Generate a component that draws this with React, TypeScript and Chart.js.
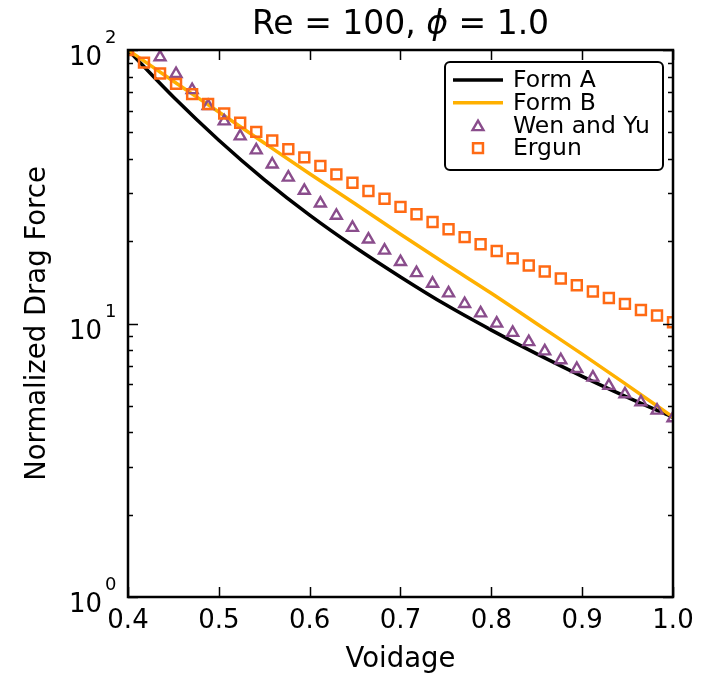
import React, { useEffect, useRef } from 'react';
import { Chart, registerables } from 'chart.js';

Chart.register(...registerables);

const FONT = "'DejaVu Sans', 'Liberation Sans', sans-serif";

// ---- data ----
const markerX = [0.4, 0.4176, 0.4353, 0.4529, 0.4706, 0.4882, 0.5059, 0.5235, 0.5412, 0.5588, 0.5765, 0.5941, 0.6118, 0.6294, 0.6471, 0.6647, 0.6824, 0.7, 0.7176, 0.7353, 0.7529, 0.7706, 0.7882, 0.8059, 0.8235, 0.8412, 0.8588, 0.8765, 0.8941, 0.9118, 0.9294, 0.9471, 0.9647, 0.9824, 1.0];
const wenYu = [126, 108.7, 94.2, 81.8, 71.4, 62.4, 54.9, 48.4, 43.0, 38.2, 34.2, 30.6, 27.5, 24.8, 22.4, 20.3, 18.5, 16.8, 15.3, 14.0, 12.9, 11.8, 10.9, 10.0, 9.25, 8.56, 7.92, 7.35, 6.83, 6.35, 5.92, 5.52, 5.16, 4.81, 4.51];
const ergun = [100, 89.9, 82.0, 75.2, 69.0, 63.5, 58.6, 54.2, 50.2, 46.7, 43.4, 40.5, 37.7, 35.1, 32.7, 30.5, 28.6, 26.7, 25.1, 23.5, 22.1, 20.7, 19.5, 18.4, 17.3, 16.3, 15.5, 14.6, 13.8, 13.1, 12.4, 11.8, 11.2, 10.7, 10.1];

const lineX = [0.4, 0.45, 0.5, 0.55, 0.6, 0.65, 0.7, 0.75, 0.8, 0.85, 0.9, 0.95, 1.0];
const formA = [100, 67.3, 46.8, 33.6, 24.9, 19.0, 14.8, 11.7, 9.46, 7.74, 6.41, 5.37, 4.54];
const formB = [100, 76.9, 59.3, 45.7, 35.3, 27.4, 21.2, 16.5, 12.9, 9.98, 7.73, 5.94, 4.55];

const xTicks = [0.4, 0.5, 0.6, 0.7, 0.8, 0.9, 1.0];
const yMajorTicks = [1, 10, 100];
const yTickBase = ['10', '10', '10'];
const yTickExp = ['0', '1', '2'];
const yMinorTicks = [2, 3, 4, 5, 6, 7, 8, 9, 20, 30, 40, 50, 60, 70, 80, 90];

const titleParts = ['Re = 100, ', '\u03D5', ' = 1.0'];
const xLabel = 'Voidage';
const yLabel = 'Normalized Drag Force';

const BLACK = '#000000';
const GOLD = '#ffb000';
const PURPLE = '#8a4d8c';
const ORANGE = '#ff6a14';

const pts = (xs: number[], ys: number[]) => xs.map((x, i) => ({ x, y: ys[i] }));

const decorations = {
  id: 'decorations',
  afterDraw(chart: any) {
    const { ctx, chartArea: a, scales } = chart;
    const xs = scales.x;
    const ys = scales.y;
    ctx.save();
    ctx.strokeStyle = '#000';
    ctx.fillStyle = '#000';

    // inward ticks
    ctx.lineWidth = 1.5;
    ctx.beginPath();
    for (const v of xTicks) {
      const px = Math.round(xs.getPixelForValue(v)) + 0.5;
      ctx.moveTo(px, a.bottom);
      ctx.lineTo(px, a.bottom - 10);
      ctx.moveTo(px, a.top);
      ctx.lineTo(px, a.top + 10);
    }
    for (const v of yMajorTicks) {
      const py = Math.round(ys.getPixelForValue(v)) + 0.5;
      ctx.moveTo(a.left, py);
      ctx.lineTo(a.left + 10, py);
      ctx.moveTo(a.right, py);
      ctx.lineTo(a.right - 10, py);
    }
    for (const v of yMinorTicks) {
      const py = Math.round(ys.getPixelForValue(v)) + 0.5;
      ctx.moveTo(a.left, py);
      ctx.lineTo(a.left + 5, py);
      ctx.moveTo(a.right, py);
      ctx.lineTo(a.right - 5, py);
    }
    ctx.stroke();

    // frame
    ctx.lineWidth = 2.5;
    ctx.strokeRect(a.left, a.top, a.right - a.left, a.bottom - a.top);

    // y tick labels 10^n
    yMajorTicks.forEach((v, i) => {
      const py = ys.getPixelForValue(v);
      ctx.textBaseline = 'alphabetic';
      ctx.font = `26px ${FONT}`;
      ctx.textAlign = 'right';
      ctx.fillText(yTickBase[i], a.left - 26, py + 15);
      ctx.font = `18px ${FONT}`;
      ctx.textAlign = 'left';
      ctx.fillText(yTickExp[i], a.left - 23, py - 7);
    });

    // title
    const fonts = [`33px ${FONT}`, `italic 33px ${FONT}`, `33px ${FONT}`];
    let total = 0;
    const widths = titleParts.map((t, i) => {
      ctx.font = fonts[i];
      const w = ctx.measureText(t).width;
      total += w;
      return w;
    });
    let tx = (a.left + a.right) / 2 - total / 2;
    ctx.textAlign = 'left';
    ctx.textBaseline = 'alphabetic';
    titleParts.forEach((t, i) => {
      ctx.font = fonts[i];
      ctx.fillText(t, tx, 34);
      tx += widths[i];
    });

    // legend
    const lx = 445, ly = 62, lw = 218, lh = 108;
    ctx.beginPath();
    if ((ctx as any).roundRect) (ctx as any).roundRect(lx, ly, lw, lh, 5);
    else ctx.rect(lx, ly, lw, lh);
    ctx.fillStyle = '#fff';
    ctx.fill();
    ctx.lineWidth = 2;
    ctx.strokeStyle = '#000';
    ctx.stroke();

    const dsList = chart.data.datasets;
    dsList.forEach((ds: any, i: number) => {
      const ry = ly + 18 + i * 22.7;
      if (ds.showLine) {
        ctx.beginPath();
        ctx.strokeStyle = ds.borderColor;
        ctx.lineWidth = ds.borderWidth;
        ctx.moveTo(453, ry);
        ctx.lineTo(503, ry);
        ctx.stroke();
      } else {
        const cx = 478;
        const r = ds.pointRadius;
        ctx.beginPath();
        ctx.strokeStyle = ds.pointBorderColor;
        ctx.lineWidth = ds.pointBorderWidth;
        if (ds.pointStyle === 'triangle') {
          let rad = 0;
          const cy = ry + r / 4;
          ctx.moveTo(cx + Math.sin(rad) * r, cy - Math.cos(rad) * r);
          rad += (2 * Math.PI) / 3;
          ctx.lineTo(cx + Math.sin(rad) * r, cy - Math.cos(rad) * r);
          rad += (2 * Math.PI) / 3;
          ctx.lineTo(cx + Math.sin(rad) * r, cy - Math.cos(rad) * r);
          ctx.closePath();
        } else {
          const s = Math.SQRT1_2 * r;
          ctx.rect(cx - s, ry - s, 2 * s, 2 * s);
        }
        ctx.stroke();
      }
      ctx.fillStyle = '#000';
      ctx.font = `23.5px ${FONT}`;
      ctx.textAlign = 'left';
      ctx.textBaseline = 'middle';
      ctx.fillText(ds.label, 513, ry + 1);
    });

    ctx.restore();
  },
};

export default function App() {
  const ref = useRef<HTMLCanvasElement | null>(null);

  useEffect(() => {
    if (!ref.current) return;
    const chart = new Chart(ref.current, {
      type: 'scatter',
      data: {
        datasets: [
          {
            label: 'Form A',
            data: pts(lineX, formA),
            showLine: true,
            borderColor: BLACK,
            borderWidth: 3.5,
            pointRadius: 0,
            cubicInterpolationMode: 'monotone',
            order: 4,
            clip: 0,
          },
          {
            label: 'Form B',
            data: pts(lineX, formB),
            showLine: true,
            borderColor: GOLD,
            borderWidth: 3.5,
            pointRadius: 0,
            cubicInterpolationMode: 'monotone',
            order: 3,
            clip: 0,
          },
          {
            label: 'Wen and Yu',
            data: pts(markerX, wenYu),
            showLine: false,
            pointStyle: 'triangle',
            pointRadius: 6.3,
            pointBorderWidth: 2.4,
            pointBorderColor: PURPLE,
            pointBackgroundColor: 'rgba(0,0,0,0)',
            borderColor: PURPLE,
            backgroundColor: 'rgba(0,0,0,0)',
            order: 2,
            clip: 0,
          },
          {
            label: 'Ergun',
            data: pts(markerX, ergun),
            showLine: false,
            pointStyle: 'rect',
            pointRadius: 7,
            pointBorderWidth: 2.5,
            pointBorderColor: ORANGE,
            pointBackgroundColor: 'rgba(0,0,0,0)',
            borderColor: ORANGE,
            backgroundColor: 'rgba(0,0,0,0)',
            order: 1,
            clip: 0,
          },
        ] as any,
      },
      options: {
        animation: false,
        responsive: false,
        devicePixelRatio: 1,
        layout: { padding: { top: 50, right: 48, bottom: 0, left: 0 } },
        plugins: {
          legend: { display: false },
          tooltip: { enabled: false },
          title: { display: false },
        },
        scales: {
          x: {
            type: 'linear',
            min: 0.4,
            max: 1.0,
            grid: { display: false, drawTicks: false },
            border: { display: false },
            afterBuildTicks: (s: any) => {
              s.ticks = xTicks.map((v) => ({ value: v }));
            },
            afterFit: (s: any) => {
              s.height = 79;
            },
            ticks: {
              autoSkip: false,
              maxRotation: 0,
              padding: 9,
              color: '#000',
              font: { family: FONT, size: 26 },
              callback: (v: any) => Number(v).toFixed(1),
            },
            title: {
              display: true,
              text: xLabel,
              color: '#000',
              font: { family: FONT, size: 27.5, lineHeight: 1.2 },
              padding: { top: 0, bottom: 0 },
            },
          },
          y: {
            type: 'logarithmic',
            min: 1,
            max: 100,
            grid: { display: false, drawTicks: false },
            border: { display: false },
            afterBuildTicks: (s: any) => {
              s.ticks = [...yMajorTicks, ...yMinorTicks].sort((p, q) => p - q).map((v) => ({ value: v }));
            },
            afterFit: (s: any) => {
              s.width = 128;
            },
            ticks: { display: false },
            title: {
              display: true,
              text: yLabel,
              color: '#000',
              font: { family: FONT, size: 27.5, lineHeight: 1.2 },
              padding: { top: 21.5, bottom: 0 },
            },
          },
        },
      } as any,
      plugins: [decorations],
    });
    return () => chart.destroy();
  }, []);

  return (
    <div style={{ position: 'fixed', left: 0, top: 0, width: 721, height: 676, background: '#fff' }}>
      <canvas ref={ref} width={721} height={676} style={{ display: 'block' }} />
    </div>
  );
}
